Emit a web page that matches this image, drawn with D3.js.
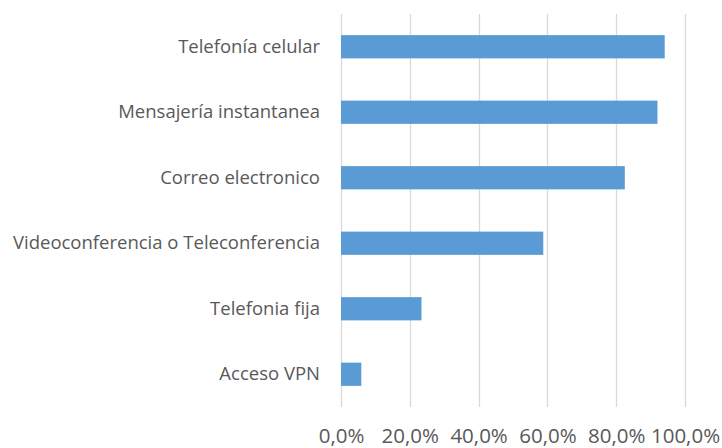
<!DOCTYPE html>
<html>
<head>
<meta charset="utf-8">
<script src="https://cdn.jsdelivr.net/npm/d3@7"></script>
<style>
  body { margin: 0; background: #fff; }
  text { font-family: "Open Sans", sans-serif; fill: #595959; }
</style>
</head>
<body>
<div id="chart"></div>
<script>
// categories, top to bottom
var categories = ["Telefonía celular", "Mensajería instantanea", "Correo electronico",
  "Videoconferencia o Teleconferencia", "Telefonia fija", "Acceso VPN"];
// share of respondents (%)
var values = [94.1, 92.0, 82.5, 58.8, 23.4, 5.9];
var ticks = [0, 20, 40, 60, 80, 100];

var margin = { top: 14, right: 37, bottom: 41, left: 341 },
  width = 722 - margin.left - margin.right,
  height = 448 - margin.top - margin.bottom;

var svg = d3.select("#chart")
  .append("svg")
  .attr("width", 722)
  .attr("height", 448);

var g = svg.append("g")
  .attr("transform", "translate(" + margin.left + "," + margin.top + ")");

var x = d3.scaleLinear()
  .domain([0, 100])
  .range([0, width]);

var y = d3.scaleBand()
  .domain(categories)
  .range([0, height])
  .paddingInner(0.645)
  .paddingOuter(0.3225);

// vertical gridlines
g.append("g")
  .selectAll("line")
  .data(ticks)
  .enter().append("line")
  .attr("x1", function(d) { return Math.round(x(d)) + 0.5; })
  .attr("x2", function(d) { return Math.round(x(d)) + 0.5; })
  .attr("y1", 0)
  .attr("y2", height)
  .attr("stroke", "#d9d9d9")
  .attr("stroke-width", 1.3);

// bars
g.append("g")
  .selectAll("rect")
  .data(values)
  .enter().append("rect")
  .attr("x", 0)
  .attr("y", function(d, i) { return y(categories[i]); })
  .attr("width", function(d) { return x(d); })
  .attr("height", y.bandwidth())
  .attr("fill", "#5b9bd5");

// x axis labels
var xAxis = d3.axisBottom(x)
  .tickValues(ticks)
  .tickSize(0)
  .tickFormat(function(d) { return d.toFixed(1).replace(".", ",") + "%"; });

var xg = g.append("g")
  .attr("transform", "translate(0," + height + ")")
  .call(xAxis);
xg.select(".domain").remove();
xg.selectAll("text")
  .attr("y", 36)
  .attr("dy", 0)
  .style("font-size", "20.5px")
  .attr("fill", "#595959");

// category labels
var yAxis = d3.axisLeft(y)
  .tickSize(0)
  .tickPadding(21);

var yg = g.append("g").call(yAxis);
yg.select(".domain").remove();
yg.selectAll("text")
  .style("font-size", "18.5px")
  .attr("fill", "#595959");
</script>
</body>
</html>
